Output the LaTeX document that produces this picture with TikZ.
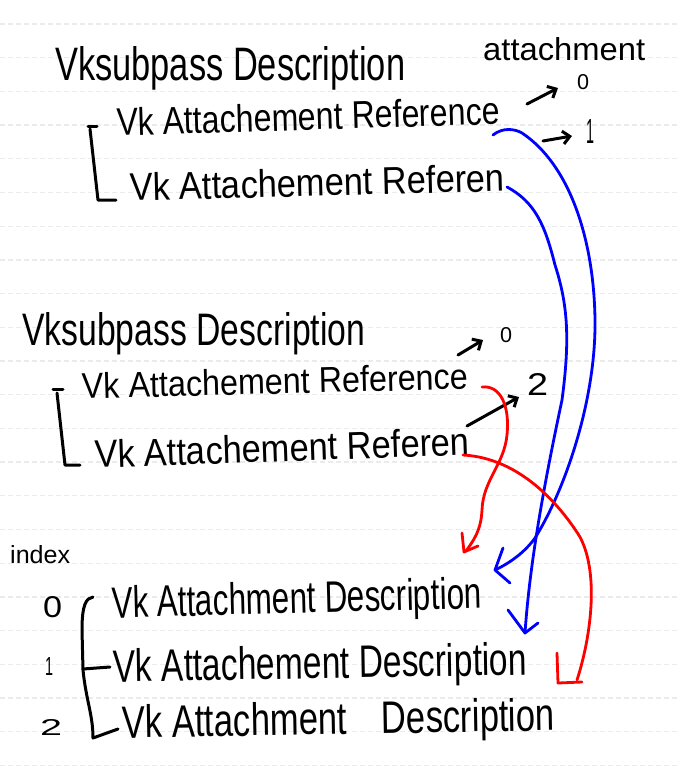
\documentclass[tikz,border=0pt]{standalone}
\usepackage{fontspec}
\setmainfont{Liberation Sans}
\usepackage{graphicx}
\usetikzlibrary{arrows.meta}
\newcommand\fitbox[3]{\resizebox{#1pt}{#2pt}{#3}}
\begin{document}
\begin{tikzpicture}[x=1pt,y=-1pt,
  txt/.style={inner sep=0pt, anchor=base west},
  pen/.style={line width=3pt, line cap=round, line join=round},
  blackarrow/.style={pen, -{Straight Barb[length=7pt,width=13pt]}},
  bluepen/.style={pen, blue, line width=2.8pt},
  redpen/.style={pen, red, line width=2.8pt},
  ruled/.style={line width=1.3pt, color=black!8, dash pattern=on 5pt off 3pt}]
\useasboundingbox (0,0) rectangle (679,779);
\fill[white] (0,0) rectangle (679,779);
\foreach \k in {0,...,22} \draw[ruled] (0,24+33.7*\k) -- (679,24+33.7*\k);

% ---- first subpass ----
\node[txt] (t1) at (55,80) {\fitbox{350}{34}{Vksubpass Description}};
\node[txt] (att) at (483,60) {\fitbox{162}{23}{attachment}};
\node[txt] (a0) at (577,89) {\fitbox{12}{15}{0}};
\node[txt] (a1) at (586,143) {\fitbox{8}{24}{1}};
\node[txt, rotate=1.8] (s1r1) at (117,136) {\fitbox{383}{28}{Vk Attachement Reference}};
\node[txt, rotate=1.5] (s1r2) at (130,201) {\fitbox{375}{28}{Vk Attachement Referen}};
\draw[pen] (88,126) -- (97,126);
\draw[pen] (90,129) -- (98,200) -- (116,200);

% ---- second subpass ----
\node[txt] (t2) at (22,345) {\fitbox{343}{33}{Vksubpass Description}};
\node[txt] (b0) at (500,342) {\fitbox{12}{15}{0}};
\node[txt] (b2) at (527,395) {\fitbox{21}{22}{2}};
\node[txt, rotate=1.5] (s2r1) at (82,399) {\fitbox{386}{26}{Vk Attachement Reference}};
\node[txt, rotate=2] (s2r2) at (95,468) {\fitbox{375}{28}{Vk Attachement Referen}};
\draw[pen] (53,389) -- (63,389);
\draw[pen] (57,393) -- (65,465) -- (80,465);

% ---- attachment descriptions ----
\node[txt] (idx) at (10,563) {\fitbox{60}{18}{index}};
\node[txt] (i0) at (43,617) {\fitbox{19}{21}{0}};
\node[txt] (i1) at (45,675) {\fitbox{8}{18}{1}};
\node[txt] (i2) at (40,735) {\fitbox{22}{16}{2}};
\node[txt, rotate=1.5] (d0) at (112,618) {\fitbox{370}{32}{Vk Attachment Description}};
\node[txt, rotate=1] (d1) at (113,682) {\fitbox{414}{33}{Vk Attachement Description}};
\node[txt, rotate=1] (d2) at (122,738) {\fitbox{433}{33}{Vk Attachment\quad Description}};
\draw[pen] (93,597) .. controls (86,598) and (82,605) .. (82,630) -- (83,670)
  .. controls (86,700) and (93,715) .. (93,738) -- (118,729);
\draw[pen] (83,669) -- (110,667);

% ---- black arrows ----
\coordinate (p0s) at (527,104); \coordinate (p0e) at (558,88);
\coordinate (p1s) at (543,141); \coordinate (p1e) at (572,136);
\coordinate (q0s) at (458,355); \coordinate (q0e) at (483,340);
\coordinate (q2s) at (467,426); \coordinate (q2e) at (519,397);
\draw[blackarrow] (p0s) -- (p0e);
\draw[blackarrow] (p1s) -- (p1e);
\draw[blackarrow] (q0s) -- (q0e);
\draw[blackarrow] (q2s) -- (q2e);

% ---- blue connectors ----
\coordinate (b1s) at (493,135); \coordinate (b1e) at (495,570);
\coordinate (b2s) at (507,187); \coordinate (b2e) at (525,633);
\draw[bluepen] (b1s) .. controls (503,127) and (515,129) .. (522,133)
  .. controls (570,165) and (594,240) .. (595,320)
  .. controls (596,400) and (565,490) .. (535,538)
  .. controls (525,552) and (510,563) .. (b1e);
\draw[bluepen] (503,548) -- (b1e) -- (510,583);
\draw[bluepen] (b2s) .. controls (535,202) and (545,225) .. (555,265)
  .. controls (568,305) and (570,340) .. (562,400)
  .. controls (545,480) and (530,560) .. (b2e);
\draw[bluepen] (508,610) -- (b2e) -- (538,623);

% ---- red connectors ----
\coordinate (r1s) at (482,387); \coordinate (r1e) at (466,551);
\coordinate (r2s) at (463,455); \coordinate (r2e) at (577,680);
\draw[redpen] (r1s) .. controls (500,385) and (510,405) .. (507,435)
  .. controls (504,465) and (483,480) .. (482,510)
  .. controls (481,530) and (474,540) .. (r1e);
\draw[redpen] (462,533) -- (464,552) -- (478,546);
\draw[redpen] (r2s) .. controls (520,458) and (560,505) .. (580,537)
  .. controls (600,575) and (590,640) .. (r2e);
\draw[redpen] (557,653) -- (558,683) -- (582,682);
\end{tikzpicture}
\end{document}
